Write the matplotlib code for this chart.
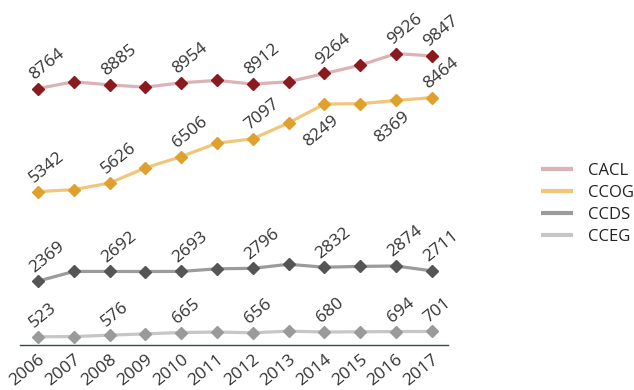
import numpy as np
import matplotlib
matplotlib.use('Agg')
import matplotlib.pyplot as plt
from matplotlib.lines import Line2D

plt.rcParams['font.family'] = ['Open Sans', 'DejaVu Sans']

## DATA

years = [2006, 2007, 2008, 2009, 2010, 2011, 2012, 2013, 2014, 2015, 2016, 2017]
cacl = [8764, 8990, 8885, 8810, 8954, 9035, 8912, 8990, 9264, 9540, 9926, 9847]
ccog = [5342, 5408, 5626, 6130, 6506, 6950, 7097, 7625, 8249, 8260, 8369, 8464]
ccds = [2369, 2692, 2692, 2690, 2693, 2780, 2796, 2930, 2832, 2860, 2874, 2711]
cceg = [523, 530, 576, 620, 665, 680, 656, 710, 680, 690, 694, 701]

series_names = ['CACL', 'CCOG', 'CCDS', 'CCEG']
series_values = [cacl, ccog, ccds, cceg]
line_colors = ['#dcb2b6', '#f0c67a', '#9b9b9b', '#c6c6c6']
marker_colors = ['#8a1a1e', '#e0a02e', '#555555', '#9a9a9a']

# which points get a value label, and which ones sit below the line
labelled = [2006, 2008, 2010, 2012, 2014, 2016, 2017]
below = {('CCOG', 2014), ('CCOG', 2016)}

## PLOT

W, H = 634, 390
fig = plt.figure(figsize=(W / 100, H / 100), dpi=100)
# axes box in pixels: left 20, right 448, bottom line at y=345, top at y=20
ax = fig.add_axes([20 / W, (H - 345) / H, 428 / W, 325 / H])
ax.set_xlim(2005.5, 2017.45)
ax.set_ylim(250, 250 + 325 * 33.2)

for name, vals, lc, mc in zip(series_names, series_values, line_colors, marker_colors):
    ax.plot(years, vals, color=lc, lw=2.3, zorder=2)
    ax.plot(years, vals, ls='none', marker='D', ms=6.2, color=mc, mec=mc, zorder=3)
    for yr, v in zip(years, vals):
        if yr not in labelled:
            continue
        if (name, yr) in below:
            ax.annotate(str(v), (yr, v), xytext=(5, -6), textcoords='offset points',
                        rotation=39, rotation_mode='anchor', ha='right', va='top',
                        fontsize=12.5, color='#333333')
        else:
            ax.annotate(str(v), (yr, v), xytext=(-1, 4), textcoords='offset points',
                        rotation=39, rotation_mode='anchor', ha='left', va='bottom',
                        fontsize=12.5, color='#333333')

for side in ['top', 'right', 'left']:
    ax.spines[side].set_visible(False)
ax.spines['bottom'].set_color('#2f4a4a')
ax.spines['bottom'].set_linewidth(1.0)
ax.set_yticks([])
ax.set_xticks(years)
ax.set_xticklabels([str(y) for y in years], rotation=39, ha='right',
                   rotation_mode='anchor', fontsize=12.5, color='#333333')
ax.tick_params(axis='x', length=0, pad=5)

handles = [Line2D([], [], color=c, lw=3, solid_capstyle='butt') for c in line_colors]
fig.legend(handles, series_names, loc='upper left', bbox_to_anchor=(534 / W, 1 - 156 / H),
           frameon=False, fontsize=12, handlelength=1.95, handletextpad=0.9,
           labelspacing=0.36, borderaxespad=0, labelcolor='#222222')

fig.savefig('out.png', dpi=100)
